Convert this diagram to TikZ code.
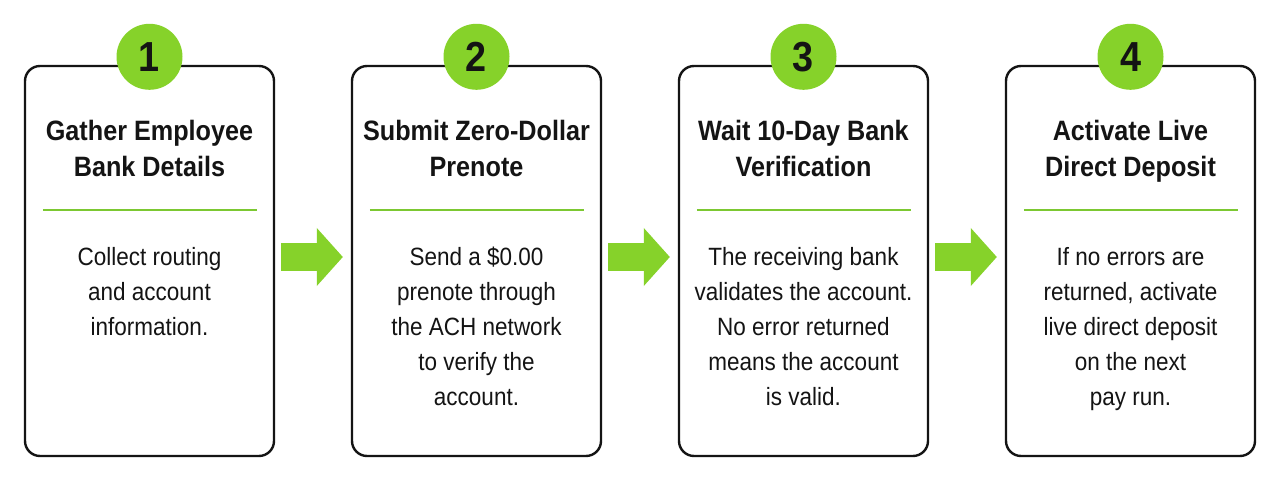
\documentclass[tikz,border=0pt]{standalone}
\usepackage{fontspec}
\setmainfont[FakeStretch=0.9]{Liberation Sans}
\usetikzlibrary{arrows.meta,positioning}
\definecolor{leafgreen}{HTML}{86D22A}
\definecolor{rulegreen}{HTML}{7CC832}
\definecolor{inkblack}{HTML}{141414}

\begin{document}
\begin{tikzpicture}[
  x=1pt,y=1pt,
  card/.style={draw=inkblack,line width=2.4pt,rounded corners=15pt,fill=white,
    minimum width=249pt,minimum height=390pt,inner sep=0pt},
  badge/.style={circle,fill=leafgreen,minimum size=66pt,inner sep=0pt,
    font=\fontsize{42}{42}\selectfont\bfseries,text=inkblack},
  heading/.style={align=center,font=\fontsize{28}{36}\selectfont\bfseries,
    text=inkblack,anchor=north,inner sep=0pt},
  blurb/.style={align=center,font=\fontsize{25}{35}\selectfont,text=inkblack,
    anchor=north,inner sep=0pt},
  divider/.style={draw=rulegreen,line width=2.2pt},
  advance/.style={draw=leafgreen,line width=28pt,
    -{Triangle[length=26pt,width=58pt,line width=0pt]},
    shorten <=6pt,shorten >=8pt}
]
  \fill[white] (0,0) rectangle (1280,480);
  \useasboundingbox (0,0) rectangle (1280,480);

  % Step one: collect the details.
  \node[card] (card1) at (149.5,219) {};
  \node[badge,yshift=8pt] (badge1) at (card1.north) {1};
  \node[heading] (head1) at ([yshift=-55pt]card1.north)
    {Gather Employee\\Bank Details};
  \draw[divider] ([xshift=19pt,yshift=-145pt]card1.north west)
    -- ([xshift=-18pt,yshift=-145pt]card1.north east);
  \node[blurb] (body1) at ([yshift=-182pt]card1.north)
    {Collect routing\\and account\\information.};

  % Step two: the zero-dollar prenote.
  \node[card] (card2) at (476.5,219) {};
  \node[badge,yshift=8pt] (badge2) at (card2.north) {2};
  \node[heading] (head2) at ([yshift=-55pt]card2.north)
    {Submit Zero-Dollar\\Prenote};
  \draw[divider] ([xshift=19pt,yshift=-145pt]card2.north west)
    -- ([xshift=-18pt,yshift=-145pt]card2.north east);
  \node[blurb] (body2) at ([yshift=-182pt]card2.north)
    {Send a \$0.00\\prenote through\\the ACH network\\to verify the\\account.};

  % Step three: bank verification.
  \node[card] (card3) at (803.5,219) {};
  \node[badge,yshift=8pt] (badge3) at (card3.north) {3};
  \node[heading] (head3) at ([yshift=-55pt]card3.north)
    {Wait 10-Day Bank\\Verification};
  \draw[divider] ([xshift=19pt,yshift=-145pt]card3.north west)
    -- ([xshift=-18pt,yshift=-145pt]card3.north east);
  \node[blurb] (body3) at ([yshift=-182pt]card3.north)
    {The receiving bank\\validates the account.\\No error returned\\means the account\\is valid.};

  % Step four: go live.
  \node[card] (card4) at (1130.5,219) {};
  \node[badge,yshift=8pt] (badge4) at (card4.north) {4};
  \node[heading] (head4) at ([yshift=-55pt]card4.north)
    {Activate Live\\Direct Deposit};
  \draw[divider] ([xshift=19pt,yshift=-145pt]card4.north west)
    -- ([xshift=-18pt,yshift=-145pt]card4.north east);
  \node[blurb] (body4) at ([yshift=-182pt]card4.north)
    {If no errors are\\returned, activate\\live direct deposit\\on the next\\pay run.};

  % Arrows between the cards.
  \draw[advance] ([yshift=4pt]card1.east) -- ([yshift=4pt]card2.west);
  \draw[advance] ([yshift=4pt]card2.east) -- ([yshift=4pt]card3.west);
  \draw[advance] ([yshift=4pt]card3.east) -- ([yshift=4pt]card4.west);
\end{tikzpicture}
\end{document}
